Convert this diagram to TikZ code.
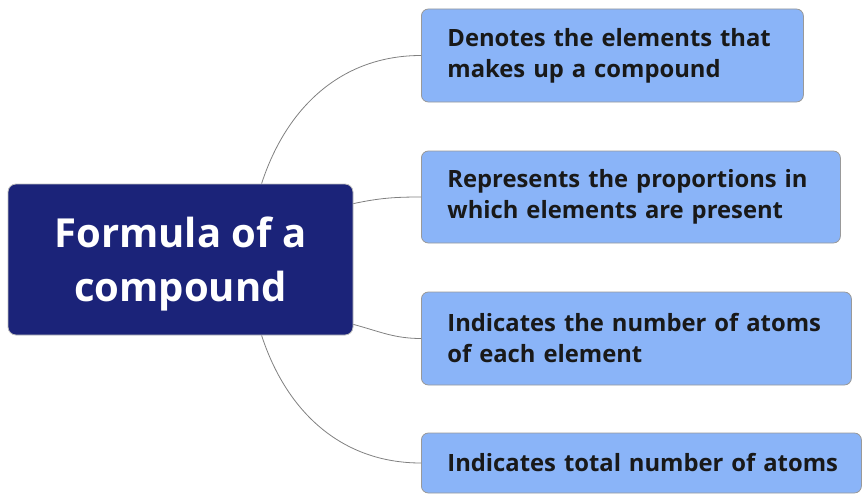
\documentclass[tikz,border=0pt]{standalone}
\usepackage{fontspec}
\setmainfont{Open Sans}
\begin{document}
\begin{tikzpicture}[x=1pt,y=-1pt,
  topic/.style={draw=black!25, line width=0.8pt, fill=navy, rounded corners=8pt,
    minimum width=345pt, minimum height=151pt, inner sep=0pt},
  topictext/.style={text=white, font=\fontsize{40}{54}\selectfont\bfseries,
    align=center, inner sep=0pt},
  leaf/.style={draw=black!40, line width=0.8pt, fill=leafblue, rounded corners=7pt,
    text=black!90, font=\fontsize{23.8}{31}\selectfont\bfseries, align=left,
    anchor=west, inner xsep=26pt, inner ysep=0pt, text width=#1},
  link/.style={draw=black!50, line width=0.8pt}
]
\definecolor{navy}{HTML}{1B2379}
\definecolor{leafblue}{HTML}{8AB4F8}
\useasboundingbox (0,0) rectangle (862,495);

% central topic: the box, and its title set a little below the middle
\node[topic] (root) at (180.5,259.5) {};
\node[topictext] (roottitle) at ([yshift=-4pt]root.center) {Formula of a\\compound};

\node[leaf=330pt, minimum height=93pt] (b1) at (421,55.5)
  {\mbox{Denotes the elements that}\\\mbox{makes up a compound}};
\node[leaf=367pt, minimum height=92pt] (b2) at (421,197)
  {\mbox{Represents the proportions in}\\\mbox{which elements are present}};
\node[leaf=378pt, minimum height=93pt] (b3) at (421,338.5)
  {\mbox{Indicates the number of atoms}\\\mbox{of each element}};
\node[leaf=388pt, minimum height=60pt] (b4) at (421,463)
  {\mbox{Indicates total number of atoms}};

\coordinate (r1) at ([xshift=254pt]root.north west);
\coordinate (r4) at ([xshift=254pt]root.south west);
\coordinate (r2) at ([yshift=-20pt]root.north east);
\coordinate (r3) at ([yshift=11pt]root.south east);

\draw[link] (r1) to[out=72, in=180] (b1.west);
\draw[link] (r2) to[out=12, in=180] (b2.west);
\draw[link] (r3) to[out=-15, in=180] (b3.west);
\draw[link] (r4) to[out=-72, in=180] (b4.west);
\end{tikzpicture}
\end{document}
